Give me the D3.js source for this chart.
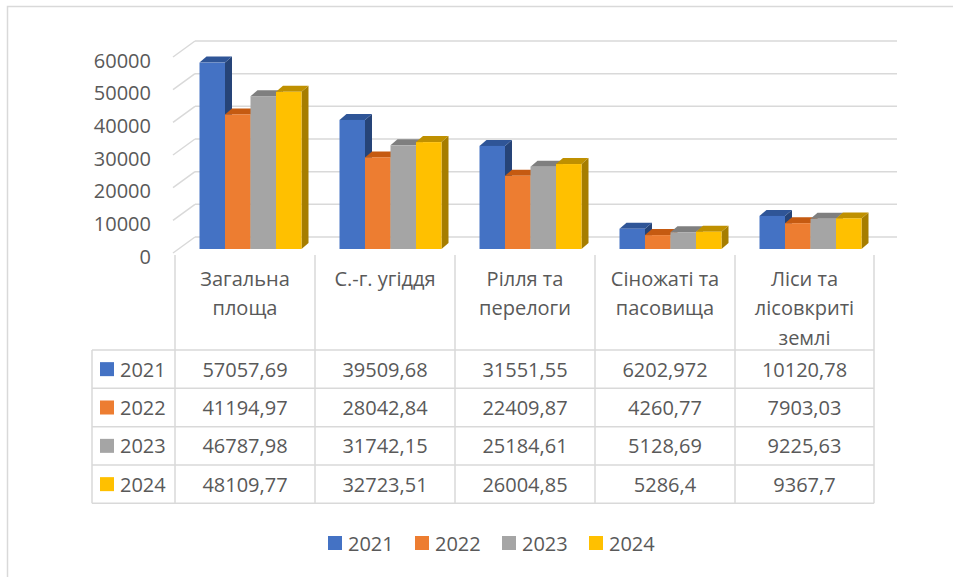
<!DOCTYPE html>
<html>
<head>
<meta charset="utf-8">
<script src="https://cdn.jsdelivr.net/npm/d3@7"></script>
<style>
  html, body { margin: 0; padding: 0; background: #fff; }
  svg { display: block; font-family: "Open Sans", "Noto Sans", sans-serif; }
</style>
</head>
<body>
<svg id="chart" width="953" height="577"></svg>
<script>
// chart data
const categories = ["Загальна\nплоща", "С.-г. угіддя", "Рілля та\nперелоги", "Сіножаті та\nпасовища", "Ліси та\nлісовкриті\nземлі"];
const years = ["2021", "2022", "2023", "2024"];
const values2021 = [57057.69, 39509.68, 31551.55, 6202.972, 10120.78];
const values2022 = [41194.97, 28042.84, 22409.87, 4260.77, 7903.03];
const values2023 = [46787.98, 31742.15, 25184.61, 5128.69, 9225.63];
const values2024 = [48109.77, 32723.51, 26004.85, 5286.4, 9367.7];
const yTicks = [0, 10000, 20000, 30000, 40000, 50000, 60000];

const series = [values2021, values2022, values2023, values2024];

// colours: front, top, side
const palette = [
  { front: "#4472C4", top: "#2F5597", side: "#264478" },
  { front: "#ED7D31", top: "#C55A11", side: "#AE5A1F" },
  { front: "#A5A5A5", top: "#7F7F7F", side: "#7C7C7C" },
  { front: "#FFC000", top: "#BF9000", side: "#A67D00" }
];

const textColor = "#595959";
const lineColor = "#D9D9D9";
const fontSize = 20;

const svg = d3.select("#chart");

// outer chart frame (runs past right/bottom edge)
svg.append("rect")
  .attr("x", 7.5).attr("y", 6.5)
  .attr("width", 1000).attr("height", 700)
  .attr("fill", "#fff")
  .attr("stroke", lineColor).attr("stroke-width", 1.5);

// geometry of the 3D box
const floorX0 = 173, floorX1 = 875;
const wallDX = 22, wallDY = -16;
const y = d3.scaleLinear().domain([0, 60000]).range([253, 57]);

// back wall gridlines + side diagonals
const grid = svg.append("g");
yTicks.forEach(t => {
  const yy = y(t);
  grid.append("line")
    .attr("x1", floorX0).attr("y1", yy)
    .attr("x2", floorX0 + wallDX).attr("y2", yy + wallDY)
    .attr("stroke", lineColor).attr("stroke-width", 1.5);
  grid.append("line")
    .attr("x1", floorX0 + wallDX).attr("y1", yy + wallDY)
    .attr("x2", floorX1 + wallDX).attr("y2", yy + wallDY)
    .attr("stroke", lineColor).attr("stroke-width", 1.5);
});

// y axis labels
svg.append("g").selectAll("text")
  .data(yTicks).join("text")
  .attr("x", 151)
  .attr("y", d => y(d) + 3)
  .attr("text-anchor", "end")
  .attr("dominant-baseline", "central")
  .attr("fill", textColor)
  .attr("font-size", fontSize)
  .text(d => d);

// bars: front face sits slightly inside the box
const barDX = 5.5, barDY = -4;
const barYScale = d3.scaleLinear().domain([0, 60000]).range([253 + barDY, 57 + barDY]);
const x0 = d3.scaleBand().domain(categories)
  .range([175 + barDX, 875 + barDX])
  .paddingInner(38 / 140).paddingOuter(19 / 140);
const x1 = d3.scaleBand().domain(years).range([0, x0.bandwidth()]);
const topDX = 7, topDY = -6;

const barsG = svg.append("g");
categories.forEach((cat, ci) => {
  years.forEach((yr, si) => {
    const v = series[si][ci];
    const xl = x0(cat) + x1(yr);
    const xr = xl + x1.bandwidth();
    const yt = barYScale(v);
    const yb = barYScale(0);
    const c = palette[si];
    // side face
    barsG.append("path")
      .attr("d", `M${xr},${yb}L${xr + topDX},${yb + topDY}L${xr + topDX},${yt + topDY}L${xr},${yt}Z`)
      .attr("fill", c.side);
    // top face
    barsG.append("path")
      .attr("d", `M${xl},${yt}L${xl + topDX},${yt + topDY}L${xr + topDX},${yt + topDY}L${xr},${yt}Z`)
      .attr("fill", c.top);
    // front face
    barsG.append("rect")
      .attr("x", xl).attr("y", yt)
      .attr("width", xr - xl).attr("height", yb - yt)
      .attr("fill", c.front);
  });
});

// data table
const colEdges = [175, 315, 455, 595, 735, 874];
const rowEdges = [350, 388.3, 426.7, 465, 503.3];
const headerTop = 255, legendColX = 92;
const tableG = svg.append("g");

// vertical separators
colEdges.forEach(xx => {
  tableG.append("line")
    .attr("x1", xx).attr("y1", headerTop)
    .attr("x2", xx).attr("y2", rowEdges[rowEdges.length - 1])
    .attr("stroke", lineColor).attr("stroke-width", 1.5);
});
tableG.append("line")
  .attr("x1", legendColX).attr("y1", rowEdges[0])
  .attr("x2", legendColX).attr("y2", rowEdges[rowEdges.length - 1])
  .attr("stroke", lineColor).attr("stroke-width", 1.5);
// horizontal separators
rowEdges.forEach(yy => {
  tableG.append("line")
    .attr("x1", legendColX).attr("y1", yy)
    .attr("x2", colEdges[colEdges.length - 1]).attr("y2", yy)
    .attr("stroke", lineColor).attr("stroke-width", 1.5);
});

// header category labels
categories.forEach((cat, ci) => {
  const cx = (colEdges[ci] + colEdges[ci + 1]) / 2;
  const t = tableG.append("text")
    .attr("text-anchor", "middle")
    .attr("fill", textColor)
    .attr("font-size", fontSize);
  cat.split("\n").forEach((line, li) => {
    t.append("tspan")
      .attr("x", cx)
      .attr("y", 278 + li * 29.5)
      .attr("dominant-baseline", "central")
      .text(line);
  });
});

// rows
years.forEach((yr, si) => {
  const cy = (rowEdges[si] + rowEdges[si + 1]) / 2;
  tableG.append("rect")
    .attr("x", 100).attr("y", cy - 7)
    .attr("width", 14).attr("height", 14)
    .attr("fill", palette[si].front);
  tableG.append("text")
    .attr("x", 120).attr("y", cy)
    .attr("dominant-baseline", "central")
    .attr("fill", textColor)
    .attr("font-size", fontSize)
    .text(yr);
  series[si].forEach((v, ci) => {
    tableG.append("text")
      .attr("x", (colEdges[ci] + colEdges[ci + 1]) / 2)
      .attr("y", cy)
      .attr("text-anchor", "middle")
      .attr("dominant-baseline", "central")
      .attr("fill", textColor)
      .attr("font-size", fontSize)
      .text(String(v).replace(".", ","));
  });
});

// bottom legend
const legend = svg.append("g");
years.forEach((yr, si) => {
  const lx = 328 + si * 87;
  legend.append("rect")
    .attr("x", lx).attr("y", 536)
    .attr("width", 14).attr("height", 14)
    .attr("fill", palette[si].front);
  legend.append("text")
    .attr("x", lx + 20).attr("y", 543)
    .attr("dominant-baseline", "central")
    .attr("fill", textColor)
    .attr("font-size", fontSize)
    .text(yr);
});
</script>
</body>
</html>
